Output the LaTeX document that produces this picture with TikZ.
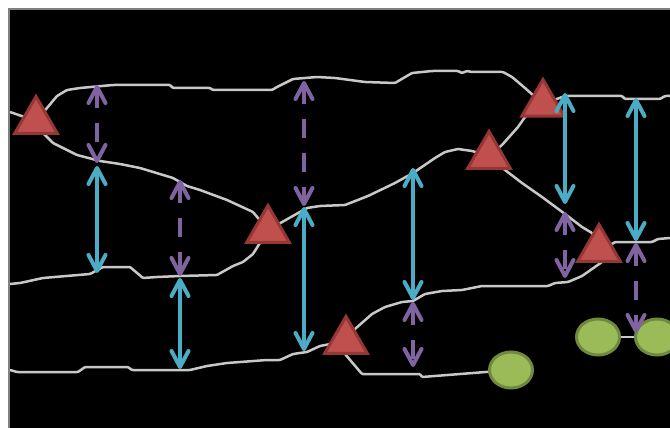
\documentclass[tikz,border=0pt]{standalone}
\usetikzlibrary{arrows.meta,shapes.geometric,backgrounds}
\definecolor{arrBlue}{HTML}{4BACC6}
\definecolor{arrPurple}{HTML}{8064A2}
\definecolor{triRed}{HTML}{C0504D}
\definecolor{triEdge}{HTML}{953735}
\definecolor{ovGreen}{HTML}{9BBB59}
\definecolor{ovEdge}{HTML}{71893F}
\definecolor{wire}{HTML}{C8C8C8}
\definecolor{frameGray}{HTML}{808080}
\tikzset{
  tri/.style={regular polygon, regular polygon sides=3, minimum size=49pt, inner sep=0pt,
    fill=triRed, draw=triEdge, line width=3pt},
  oval/.style={ellipse, minimum width=43pt, minimum height=36pt, inner sep=0pt,
    fill=ovGreen, draw=ovEdge, line width=3pt},
  wireline/.style={draw=wire, line width=2.5pt, rounded corners=1pt},
  >={Straight Barb[length=16pt,width=17pt,round]},
  solidarr/.style={arrBlue, line width=4pt, <->},
  dasharr/.style={arrPurple, line width=4pt, <->, dash pattern=on 19pt off 15pt},
}
\begin{document}
\begin{tikzpicture}[x=1pt,y=-1pt]
\useasboundingbox (0,0) rectangle (670,428);
% triangles and ovals
\node[tri] (T1) at (36,121) {};
\node[tri] (T2) at (268,230) {};
\node[tri] (T3) at (489,156) {};
\node[tri] (T4) at (543,104) {};
\node[tri] (T5) at (599,249) {};
\node[tri] (T6) at (346,341) {};
\node[oval] (E1) at (511,370) {};
\node[oval] (E2) at (598,337) {};
\node[oval] (E3) at (657,337) {};
\coordinate (L1) at (10,112);
\coordinate (L2) at (10,284);
\coordinate (L3) at (10,370);
\coordinate (R1) at (670,96);
\coordinate (R2) at (670,238);
\begin{pgfonlayer}{background}
\fill[white] (0,0) rectangle (670,428);
\fill[black] (9,9) rectangle (670,428);
\draw[frameGray, line width=2.5pt] (9,428) -- (9,9) -- (670,9);
% line A
\draw[wireline] (L1) -- (T1.center) -- (47,108) -- (57,96) -- (67,90) -- (80,88) -- (113,85) -- (170,85) -- (173,88) -- (210,88) -- (213,90) -- (272,90) -- (277,87) -- (287,82) -- (293,79) -- (317,77) -- (335,78) -- (365,82) -- (395,83) -- (412,73) -- (432,71) -- (458,71) -- (462,73) -- (467,71) -- (472,72) -- (503,72) -- (512,77) -- (525,88) -- (T4.center) -- (565,96) -- (622,96) -- (625,99) -- (660,99) -- (665,96) -- (R1);
% line B
\draw[wireline] (T1.center) -- (43,133) -- (53,143) -- (77,155) -- (100,161) -- (120,164) -- (140,168) -- (173,178) -- (187,186) -- (200,190) -- (227,200) -- (253,212) -- (T2.center) -- (307,208) -- (320,206) -- (345,205) -- (368,196) -- (395,183) -- (413,173) -- (435,158) -- (445,152) -- (458,149) -- (472,151) -- (T3.center) -- (502,145) -- (518,127) -- (525,117) -- (T4.center);
\draw[wireline] (T3.center) -- (505,170) -- (522,183) -- (542,197) -- (565,214) -- (582,227) -- (592,233) -- (T5.center) -- (612,244) -- (615,242) -- (652,242) -- (658,239) -- (R2);
% line C
\draw[wireline] (L2) -- (20,283) -- (43,278) -- (90,274) -- (103,267) -- (130,267) -- (143,278) -- (157,277) -- (180,276) -- (217,275) -- (233,266) -- (243,262) -- (253,254) -- (T2.center);
% line D
\draw[wireline] (L3) -- (17,372) -- (78,372) -- (85,367) -- (128,367) -- (132,370) -- (190,370) -- (207,366) -- (227,363) -- (267,360) -- (280,360) -- (293,354) -- (307,352) -- (320,346) -- (T6.center) -- (355,329) -- (372,314) -- (385,307) -- (402,302) -- (413,301) -- (425,294) -- (442,291) -- (462,290) -- (482,286) -- (548,286) -- (555,283) -- (568,282) -- (582,276) -- (602,262) -- (T5.center);
\draw[wireline] (T6.center) -- (345,354) -- (362,374) -- (420,374) -- (422,377) -- (E1.center);
\draw[wireline] (E2.center) -- (E3.center);
\end{pgfonlayer}
% arrow end points
\coordinate (a1t) at (97,85);   \coordinate (a1m) at (97,163);
\coordinate (b1t) at (97,166);  \coordinate (b1b) at (97,273);
\coordinate (a2t) at (180,180); \coordinate (a2b) at (180,276);
\coordinate (b2t) at (180,278); \coordinate (b2b) at (180,369);
\coordinate (a3t) at (304,81);  \coordinate (a3b) at (304,206);
\coordinate (b3t) at (304,207); \coordinate (b3b) at (304,351);
\coordinate (b4t) at (413,168); \coordinate (b4b) at (413,300);
\coordinate (a4t) at (413,302); \coordinate (a4b) at (413,367);
\coordinate (b5t) at (565,93);  \coordinate (b5b) at (565,204);
\coordinate (a5t) at (565,212); \coordinate (a5b) at (565,278);
\coordinate (b6t) at (636,98);  \coordinate (b6b) at (636,241);
\coordinate (a6t) at (636,243); \coordinate (a6b) at (636,333);
% blue solid arrows
\draw[solidarr] (b1t) -- (b1b);
\draw[solidarr] (b2t) -- (b2b);
\draw[solidarr] (b3t) -- (b3b);
\draw[solidarr] (b4t) -- (b4b);
\draw[solidarr] (b5t) -- (b5b);
\draw[solidarr] (b6t) -- (b6b);
% purple dashed arrows
\draw[dasharr] (a1t) -- (a1m);
\draw[dasharr] (a2t) -- (a2b);
\draw[dasharr] (a3t) -- (a3b);
\draw[dasharr] (a4t) -- (a4b);
\draw[dasharr] (a5t) -- (a5b);
\draw[dasharr] (a6t) -- (a6b);
\end{tikzpicture}
\end{document}
